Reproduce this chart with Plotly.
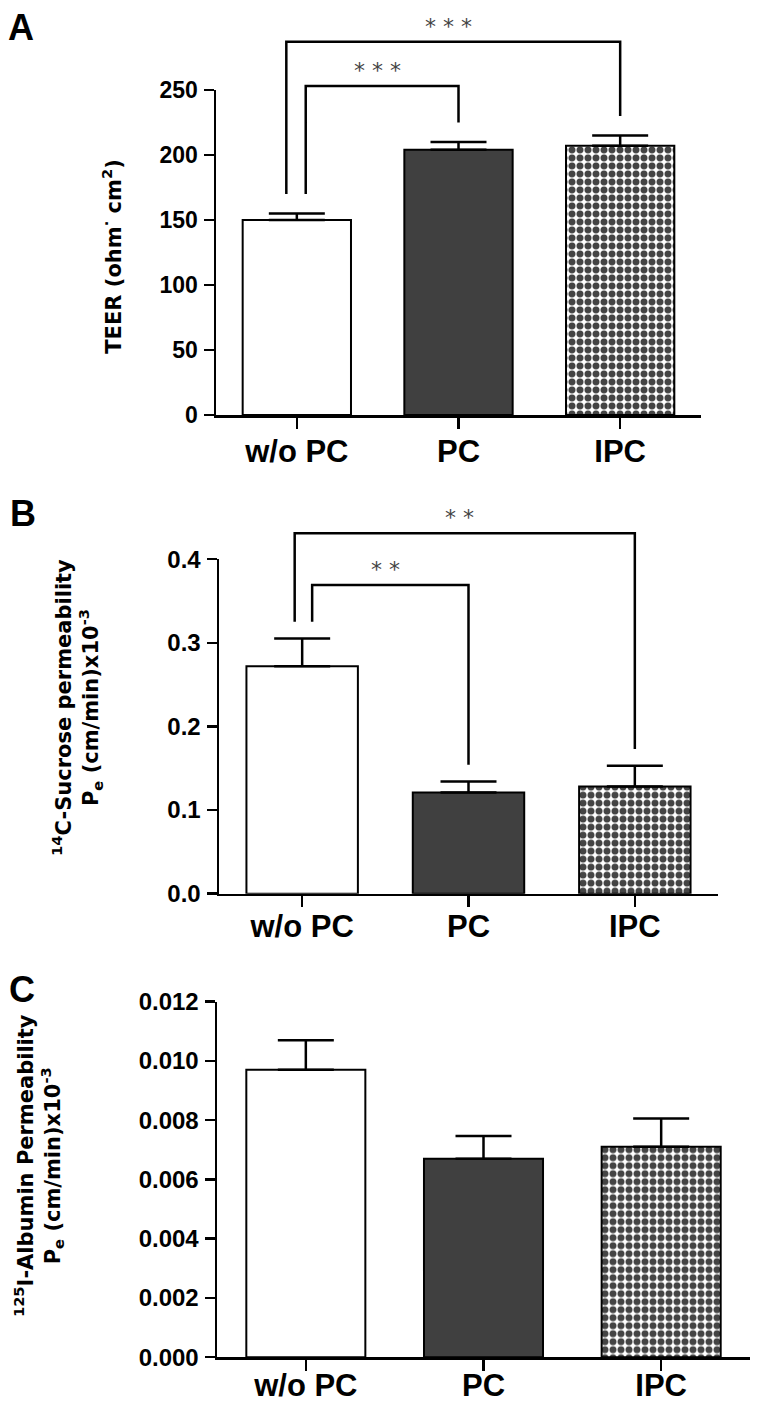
import plotly.graph_objects as go

# ---------------- data ----------------
categories = ["w/o PC", "PC", "IPC"]

teer_mean = [150, 204, 207]
teer_sem = [5, 6, 8]

sucrose_mean = [0.272, 0.121, 0.128]
sucrose_sem = [0.033, 0.013, 0.025]

albumin_mean = [0.0097, 0.0067, 0.0071]
albumin_sem = [0.0010, 0.00077, 0.00096]

teer_ticks = [0, 50, 100, 150, 200, 250]
sucrose_ticks = [0.0, 0.1, 0.2, 0.3, 0.4]
albumin_ticks = [0.000, 0.002, 0.004, 0.006, 0.008, 0.010, 0.012]

# significance comparisons: (group a, group b, stars)
teer_sig = [(0, 1, "* * *"), (0, 2, "* * *")]
sucrose_sig = [(0, 1, "* *"), (0, 2, "* *")]

# ---------------- styles / layout helpers ----------------
W, H = 757, 1415
BLACK = "#000000"
PC_GREY = "#404040"
TICKFONT = "Liberation Sans, Arial, sans-serif"
TITLEFONT = "DejaVu Sans, Liberation Sans, sans-serif"

def fig_y(t):
    # picture row -> figure row (calibrated from previous renders)
    return (t - 13.4) / 0.9805

def px_x(p):
    return p / W

def px_y(t):
    return (H - fig_y(t)) / H

fig = go.Figure()
xs = list(range(len(categories)))

def add_bars(xa, ya, means, sems):
    fills = ["white", PC_GREY, "white"]
    patterns = ["", "", "."]
    fig.add_trace(go.Bar(
        x=xs, y=means, xaxis=xa, yaxis=ya, width=0.67,
        marker=dict(color=fills, line=dict(color=BLACK, width=2),
                    pattern=dict(shape=patterns, fgcolor=BLACK, bgcolor="white",
                                 fgopacity=1, size=8, solidity=0.6)),
        error_y=dict(type="data", array=sems, arrayminus=[0] * len(sems), symmetric=False,
                     color=BLACK, thickness=2.5, width=28),
        showlegend=False, hoverinfo="skip",
    ))

def add_brackets(xa, ya, means, sems, sig, levels, gap, offsets):
    for (a, b, stars), lvl, off in zip(sig, levels, offsets):
        xl = a + off
        yl = means[a] + sems[a] + gap
        yr = means[b] + sems[b] + gap
        fig.add_trace(go.Scatter(
            x=[xl, xl, b, b], y=[yl, lvl, lvl, yr], xaxis=xa, yaxis=ya,
            mode="lines", line=dict(color=BLACK, width=2.5),
            showlegend=False, hoverinfo="skip",
        ))
        fig.add_annotation(x=(xl + b) / 2 - 0.03, y=lvl, xref=xa, yref=ya, text=stars,
                           showarrow=False, yanchor="bottom", yshift=1,
                           font=dict(family=TITLEFONT, size=22, color="#444444"))

def xaxis(domain, anchor, standoff, size):
    return dict(domain=domain, anchor=anchor, range=[-0.5, 2.5],
                tickvals=xs, ticktext=categories,
                showline=True, linecolor=BLACK, linewidth=2.5,
                ticks="outside", ticklen=11, tickwidth=2.5, tickcolor=BLACK,
                showgrid=False, zeroline=False, ticklabelstandoff=standoff,
                tickfont=dict(family=TICKFONT, size=size, color=BLACK, weight="bold"),
                fixedrange=True)

def yaxis(domain, anchor, rng, ticks, fmt, size):
    return dict(domain=domain, anchor=anchor, range=rng, tickvals=ticks, tickformat=fmt,
                showline=True, linecolor=BLACK, linewidth=2.5,
                ticks="outside", ticklen=10, tickwidth=2.5, tickcolor=BLACK,
                showgrid=False, zeroline=False, ticklabelstandoff=1,
                tickfont=dict(family=TICKFONT, size=size, color=BLACK, weight="bold"),
                fixedrange=True)

def hidden_axis(y0, ytop, vtop, top_fig, anchor):
    # invisible companion axis, same scale, taller domain (for brackets above the axis)
    span = fig_y(y0) - fig_y(ytop)
    rng_top = vtop * (fig_y(y0) - top_fig) / span
    return dict(domain=[px_y(y0), (H - top_fig) / H], anchor=anchor,
                range=[0, rng_top], visible=False, fixedrange=True)

# picture rows of the panels
A_y0, A_ytop = 414.3, 89.3
B_y0, B_ytop = 892.7, 558.3
C_y0, C_ytop = 1356.0, 1000.7

add_bars("x", "y", teer_mean, teer_sem)
add_brackets("x", "y4", teer_mean, teer_sem, teer_sig, [253, 287], 15, [0.055, -0.065])

add_bars("x2", "y2", sucrose_mean, sucrose_sem)
add_brackets("x2", "y5", sucrose_mean, sucrose_sem, sucrose_sig, [0.369, 0.431], 0.02, [0.06, -0.045])

add_bars("x3", "y3", albumin_mean, albumin_sem)

fig.update_layout(
    width=W, height=H,
    margin=dict(l=0, r=0, t=0, b=0),
    paper_bgcolor="white", plot_bgcolor="rgba(0,0,0,0)",
    xaxis=xaxis([px_x(216), px_x(701)], "y", -4, 31),
    yaxis=yaxis([px_y(A_y0), px_y(A_ytop)], "x", [0, 250], teer_ticks, "d", 23),
    yaxis4=hidden_axis(A_y0, A_ytop, 250, 0, "x"),
    xaxis2=xaxis([px_x(219), px_x(718)], "y2", -7, 31),
    yaxis2=yaxis([px_y(B_y0), px_y(B_ytop)], "x2", [0, 0.4], sucrose_ticks, ".1f", 24),
    yaxis5=hidden_axis(B_y0, B_ytop, 0.4, fig_y(490), "x2"),
    xaxis3=xaxis([px_x(217), px_x(750)], "y3", -12, 31),
    yaxis3=yaxis([px_y(C_y0), px_y(C_ytop)], "x3", [0, 0.012], albumin_ticks, ".3f", 24),
)

# axis titles
fig.add_annotation(x=px_x(112), y=px_y(256), xref="paper", yref="paper",
                   text="TEER (ohm<sup>·</sup> cm<sup>2</sup>)", textangle=-90,
                   showarrow=False, xanchor="center", yanchor="middle",
                   font=dict(family=TITLEFONT, size=21, color=BLACK, weight="bold"))
fig.add_annotation(x=px_x(77), y=px_y(707), xref="paper", yref="paper",
                   text="<sup>14</sup>C-Sucrose permeability<br>P<sub>e</sub> (cm/min)x10<sup>-3</sup>",
                   textangle=-90, showarrow=False, xanchor="center", yanchor="middle", align="center",
                   font=dict(family=TITLEFONT, size=21, color=BLACK, weight="bold"))
fig.add_annotation(x=px_x(39), y=px_y(1165), xref="paper", yref="paper",
                   text="<sup>125</sup>I-Albumin Permeability<br>P<sub>e</sub> (cm/min)x10<sup>-3</sup>",
                   textangle=-90, showarrow=False, xanchor="center", yanchor="middle", align="center",
                   font=dict(family=TITLEFONT, size=21, color=BLACK, weight="bold"))

# panel letters
for letter, (cx, cy) in zip(["A", "B", "C"], [(21, 27), (23, 513), (22, 988)]):
    fig.add_annotation(x=px_x(cx), y=px_y(cy), xref="paper", yref="paper", text=letter,
                       showarrow=False, xanchor="center", yanchor="middle",
                       font=dict(family=TICKFONT, size=36, color=BLACK, weight="bold"))

fig.write_html("out.html", config={"displayModeBar": False, "staticPlot": True},
               post_script="document.body.style.margin='0';")
